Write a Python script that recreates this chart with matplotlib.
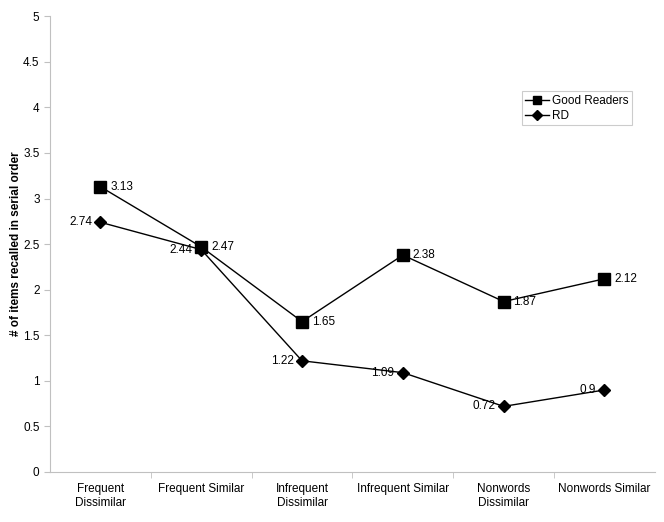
import numpy as np
import matplotlib.pyplot as plt

categorias = [
    "Frequent\nDissimilar",
    "Frequent Similar",
    "Infrequent\nDissimilar",
    "Infrequent Similar",
    "Nonwords\nDissimilar",
    "Nonwords Similar",
]
good_readers = [3.13, 2.47, 1.65, 2.38, 1.87, 2.12]
rd = [2.74, 2.44, 1.22, 1.09, 0.72, 0.9]
rd_rotulos = ["2.74", "2.44", "1.22", "1.09", "0.72", "0.9"]
good_rotulos = ["3.13", "2.47", "1.65", "2.38", "1.87", "2.12"]

plt.rcParams["font.family"] = ["Liberation Sans", "DejaVu Sans"]

fig = plt.figure(figsize=(6.64, 5.22), dpi=100)
ax = fig.add_axes([0.0753, 0.0958, 0.911, 0.873])

x = np.arange(len(categorias))
ax.plot(x, good_readers, "k-", marker="s", markersize=8, linewidth=1.0, label="Good Readers")
ax.plot(x, rd, "k-", marker="D", markersize=6, linewidth=1.0, label="RD")

for xi, yi, txt in zip(x, good_readers, good_rotulos):
    ax.annotate(txt, (xi, yi), xytext=(7, 0), textcoords="offset points",
                ha="left", va="center", fontsize=8.5)
for xi, yi, txt in zip(x, rd, rd_rotulos):
    ax.annotate(txt, (xi, yi), xytext=(-6, 0), textcoords="offset points",
                ha="right", va="center", fontsize=8.5)

ax.set_xlim(-0.5, len(categorias) - 0.5)
ax.set_ylim(0, 5)
ax.set_yticks(np.arange(0, 5.01, 0.5))
ax.set_yticklabels(["0", "0.5", "1", "1.5", "2", "2.5", "3", "3.5", "4", "4.5", "5"])
ax.set_xticks(x)
ax.set_xticklabels(categorias, fontsize=8.5)
ax.set_xticks(np.arange(0.5, len(categorias) - 0.5), minor=True)
ax.tick_params(axis="x", which="major", length=0, pad=8)
ax.tick_params(axis="x", which="minor", length=4, color="#c0c0c0", direction="out")
ax.tick_params(axis="y", length=4, color="#c0c0c0", labelsize=8.5)

for lado in ["top", "right"]:
    ax.spines[lado].set_visible(False)
for lado in ["left", "bottom"]:
    ax.spines[lado].set_color("#c0c0c0")

ax.set_ylabel("# of items recalled in serial order", fontsize=8.5, fontweight="bold", labelpad=0.5)

leg = ax.legend(loc="upper left", bbox_to_anchor=(0.77, 0.848), fontsize=8.5,
                frameon=True, fancybox=False, handlelength=2.0, borderpad=0.3,
                labelspacing=0.25, handletextpad=0.3, markerscale=0.8)
leg.get_frame().set_edgecolor("#c0c0c0")
leg.get_frame().set_linewidth(0.8)

fig.savefig("out.png", dpi=100)
